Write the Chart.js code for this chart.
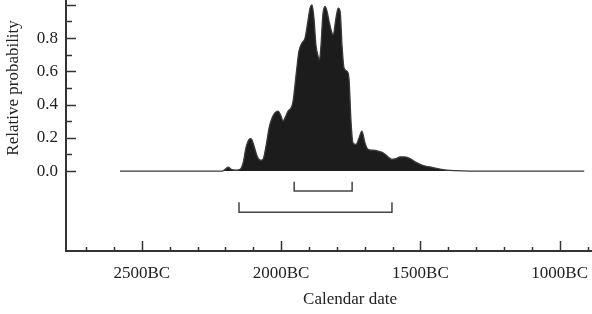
<!DOCTYPE html>
<html>
<head>
<meta charset="utf-8">
<script src="https://cdn.jsdelivr.net/npm/chart.js@4.4.1/dist/chart.umd.min.js"></script>
<style>
  html, body { margin: 0; padding: 0; background: #fff; overflow: hidden; }
</style>
</head>
<body>
<canvas id="grafico" width="592" height="314"></canvas>
<script>
// años (negativo = BC) y probabilidad relativa
const anios = [-2578, -2212, -2201, -2190, -2179, -2161, -2147, -2136, -2126, -2115,
  -2108, -2097, -2086, -2075, -2065, -2054, -2043, -2032, -2022, -2011,
  -2000, -1993, -1986, -1975, -1964, -1957, -1946, -1936, -1925, -1914,
  -1903, -1896, -1889, -1882, -1875, -1867, -1862, -1857, -1850, -1842,
  -1835, -1825, -1813, -1803, -1795, -1788, -1781, -1774, -1763, -1756,
  -1749, -1742, -1731, -1720, -1710, -1699, -1688, -1670, -1652, -1634,
  -1616, -1602, -1587, -1573, -1555, -1537, -1519, -1501, -1483, -1465,
  -1447, -1429, -1404, -1375, -1322, -912];
const probabilidad = [0, 0, 0.01, 0.024, 0.01, 0.005, 0.01, 0.05, 0.14, 0.19,
  0.195, 0.15, 0.09, 0.065, 0.07, 0.15, 0.26, 0.32, 0.35, 0.36,
  0.33, 0.30, 0.32, 0.36, 0.38, 0.42, 0.58, 0.72, 0.77, 0.80,
  0.91, 0.98, 1.0, 0.92, 0.76, 0.69, 0.67, 0.75, 0.94, 0.99,
  0.96, 0.88, 0.82, 0.92, 0.98, 0.96, 0.75, 0.62, 0.6, 0.55,
  0.3, 0.17, 0.16, 0.2, 0.24, 0.17, 0.13, 0.125, 0.12, 0.11,
  0.085, 0.07, 0.075, 0.085, 0.085, 0.075, 0.055, 0.04, 0.03, 0.025,
  0.018, 0.012, 0.005, 0.002, 0, 0];

// rangos (68% y 95%)
const rango68 = [-1953, -1745];
const rango95 = [-2151, -1602];

const ticksX = [-2500, -2000, -1500, -1000];
const ticksY = [0, 0.2, 0.4, 0.6, 0.8];

const fuente = { family: '"Liberation Serif", "Times New Roman", serif', size: 17 };
const colorEje = "#333";

function corchete(rango, alto, bajo) {
  return [
    { x: rango[0], y: alto },
    { x: rango[0], y: bajo },
    { x: rango[1], y: bajo },
    { x: rango[1], y: alto },
  ];
}

// marcas hacia dentro y títulos de ejes
const marcasEjes = {
  id: "marcasEjes",
  afterDraw(chart) {
    const ctx = chart.ctx;
    const { x, y } = chart.scales;
    const area = chart.chartArea;
    ctx.save();
    ctx.strokeStyle = colorEje;
    ctx.lineWidth = 1.5;
    for (let a = Math.ceil(x.min / 100) * 100; a <= x.max; a += 100) {
      const px = Math.round(x.getPixelForValue(a)) + 0.5;
      const largo = a % 500 === 0 ? 10 : 4;
      ctx.beginPath();
      ctx.moveTo(px, area.bottom);
      ctx.lineTo(px, area.bottom - largo);
      ctx.stroke();
    }
    for (let i = 0; i <= 10; i++) {
      const py = Math.round(y.getPixelForValue(i / 10)) + 0.5;
      const largo = i % 2 === 0 ? 10 : 6;
      ctx.beginPath();
      ctx.moveTo(area.left, py);
      ctx.lineTo(area.left + largo, py);
      ctx.stroke();
    }

    ctx.fillStyle = "#222";
    ctx.font = `${fuente.size}px ${fuente.family}`;
    ctx.textAlign = "center";
    ctx.textBaseline = "middle";
    ctx.fillText("Calendar date", 350, 300);
    ctx.translate(14, (y.getPixelForValue(0) + y.getPixelForValue(1)) / 2);
    ctx.rotate(-Math.PI / 2);
    ctx.fillText("Relative probability", 0, 0);
    ctx.restore();
  },
};

new Chart(document.getElementById("grafico"), {
  type: "line",
  data: {
    datasets: [
      {
        data: anios.map((a, i) => ({ x: a, y: probabilidad[i] })),
        borderColor: "#3a3a3a",
        borderWidth: 1.3,
        backgroundColor: "#1c1c1c",
        fill: "origin",
        pointRadius: 0,
        cubicInterpolationMode: "monotone",
      },
      {
        data: corchete(rango68, -0.064, -0.12),
        borderColor: "#444",
        borderWidth: 1.5,
        fill: false,
        pointRadius: 0,
        tension: 0,
      },
      {
        data: corchete(rango95, -0.188, -0.248),
        borderColor: "#444",
        borderWidth: 1.5,
        fill: false,
        pointRadius: 0,
        tension: 0,
      },
    ],
  },
  options: {
    responsive: false,
    animation: false,
    layout: { padding: 0 },
    plugins: { legend: { display: false }, tooltip: { enabled: false } },
    scales: {
      x: {
        type: "linear",
        min: -2772,
        max: -884,
        grid: { display: false, drawTicks: false },
        border: { color: colorEje, width: 2 },
        afterBuildTicks: (s) => {
          s.ticks = ticksX.map((v) => ({ value: v }));
        },
        afterFit: (s) => {
          s.height = 63;
          s.paddingLeft = 0;
          s.paddingRight = 0;
        },
        ticks: {
          callback: (v) => `${-v}BC`,
          font: fuente,
          color: "#222",
          padding: 12,
          maxRotation: 0,
          autoSkip: false,
        },
      },
      y: {
        min: -0.481,
        max: 1.029,
        grid: { display: false, drawTicks: false },
        border: { color: colorEje, width: 2 },
        afterBuildTicks: (s) => {
          s.ticks = ticksY.map((v) => ({ value: v }));
        },
        afterFit: (s) => {
          s.width = 66;
          s.paddingTop = 0;
          s.paddingBottom = 0;
        },
        ticks: {
          callback: (v) => v.toFixed(1),
          font: fuente,
          color: "#222",
          padding: 8,
          autoSkip: false,
        },
      },
    },
  },
  plugins: [marcasEjes],
});
</script>
</body>
</html>
